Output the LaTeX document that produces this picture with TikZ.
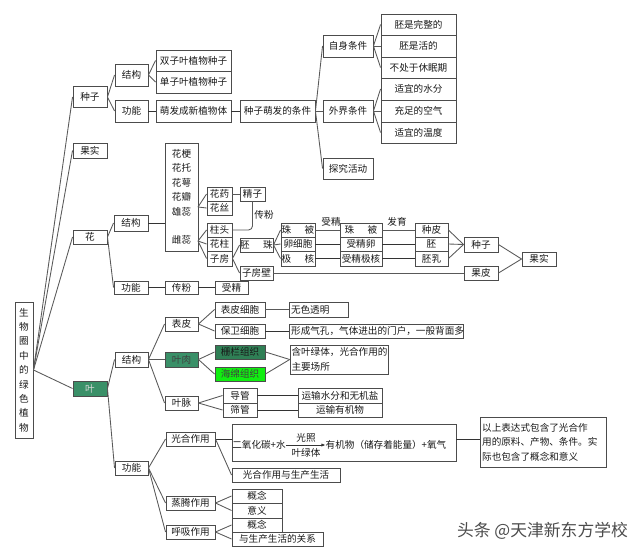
\documentclass[tikz,border=0pt]{standalone}
\usepackage{fontspec}
\setmainfont{Noto Sans CJK SC}
\usepackage{tikz}
\usetikzlibrary{arrows.meta}
\definecolor{leafgreen}{HTML}{3A9068}
\definecolor{darkgreen}{HTML}{2F7F55}
\definecolor{lightgreen}{HTML}{10EE10}
\tikzset{
    cell/.style 2 args = {rectangle, draw=black!70, line width=0.7pt, text=black!90, inner sep=0pt, align=center, minimum width=#1*0.75pt, minimum height=#2*0.75pt, font=\fontsize{7.2}{10.8}\selectfont},
    note/.style 2 args = {rectangle, draw=black!70, line width=0.7pt, text=black!90, inner sep=1pt, align=left, text width=#1, minimum height=#2*0.75pt, font=\fontsize{7.2}{10.8}\selectfont},
    mytext/.style = {inner sep=0pt, text=black!90, font=\fontsize{7.2}{10.8}\selectfont},
    edgen/.style = {draw=black!65, line width=0.65pt},
    edgeb/.style = {draw=black!80, line width=0.6pt},
    edgea/.style = {-{Latex[length=3pt,width=2.4pt]}, draw=black!80, line width=0.5pt},
}
\begin{document}
\begin{tikzpicture}[x=0.75pt,y=-0.75pt]
\useasboundingbox (0,0) rectangle (640,553);
%
\node[cell={18}{136}] at (24,370) (root) {生\\物\\圈\\中\\的\\绿\\色\\植\\物};
\node[cell={34}{21}] at (90,97) (seed) {种子};
\node[cell={34}{15}] at (90,150.5) (fruit) {果实};
\node[cell={34}{14}] at (90,237) (flower) {花};
\node[cell={34}{15},fill=leafgreen,text=white!85!black] at (90,388.5) (leaf) {叶};
%
% seed
\node[cell={33}{22}] at (131.5,75) (sstruct) {结构};
\node[cell={33}{22}] at (131.5,111) (sfunc) {功能};
\node[cell={75}{21}] at (193.5,60.5) (dicot) {双子叶植物种子};
\node[cell={75}{22}] at (193.5,82) (monocot) {单子叶植物种子};
\node[cell={75}{22}] at (193.5,111) (sprout) {萌发成新植物体};
\node[cell={75}{22}] at (277.5,111) (cond) {种子萌发的条件};
\node[cell={50}{22}] at (348,46) (self) {自身条件};
\node[cell={50}{22}] at (348,111) (outer) {外界条件};
\node[cell={50}{21}] at (348,168.5) (explore) {探究活动};
\node[cell={75}{21}] at (418.5,24.5) (selfa) {胚是完整的};
\node[cell={75}{22}] at (418.5,46) (selfb) {胚是活的};
\node[cell={75}{21}] at (418.5,67.5) (selfc) {不处于休眠期};
\node[cell={75}{22}] at (418.5,89) (outa) {适宜的水分};
\node[cell={75}{22}] at (418.5,111) (outb) {充足的空气};
\node[cell={75}{21}] at (418.5,132.5) (outc) {适宜的温度};
%
% flower
\node[cell={34}{16}] at (131,223) (fstruct) {结构};
\node[cell={34}{13}] at (131,287.5) (ffunc) {功能};
\node[cell={33}{108}] at (181.5,197) (parts) {花梗\\花托\\花萼\\花瓣\\雄蕊\\\mbox{}\\雌蕊};
\node[cell={33}{13}] at (181.5,287.5) (fpoll) {传粉};
\node[cell={33}{13}] at (231.5,287.5) (ffert) {受精};
\node[cell={25}{14}] at (219.5,194) (anther) {花药};
\node[cell={25}{14}] at (219.5,208) (filament) {花丝};
\node[cell={25}{14}] at (252.5,194) (sperm) {精子};
\node[cell={25}{14}] at (219.5,230) (stigma) {柱头};
\node[cell={25}{14}] at (219.5,244) (style) {花柱};
\node[cell={25}{15}] at (219.5,258.5) (ovary) {子房};
\node[cell={33}{14}] at (256.5,245) (ovule) {胚\hspace{1.4em}珠};
\node[cell={33}{14}] at (256.5,273) (wall) {子房壁};
\node[cell={34}{14}] at (298,230) (tega) {珠\hspace{1.4em}被};
\node[cell={34}{14}] at (298,244) (egga) {卵细胞};
\node[cell={34}{15}] at (298,258.5) (polara) {极\hspace{1.4em}核};
\node[cell={42}{14}] at (361,230) (tegb) {珠\hspace{1.4em}被};
\node[cell={42}{14}] at (361,244) (eggb) {受精卵};
\node[cell={42}{15}] at (361,258.5) (polarb) {受精极核};
\node[cell={33}{14}] at (431.5,230) (coat) {种皮};
\node[cell={33}{14}] at (431.5,244) (embryo) {胚};
\node[cell={33}{15}] at (431.5,258.5) (endo) {胚乳};
\node[cell={34}{15}] at (481,244.5) (fseed) {种子};
\node[cell={34}{14}] at (481,273) (peel) {果皮};
\node[cell={34}{14}] at (539,259) (ffruit) {果实};
\node[mytext] at (264,215) (lpoll) {传粉};
\node[mytext] at (331,222) (lfert) {受精};
\node[mytext] at (397,222) (lgrow) {发育};
%
% leaf
\node[cell={33}{15}] at (131.5,359.5) (lstruct) {结构};
\node[cell={33}{14}] at (131.5,468) (lfunc) {功能};
\node[cell={33}{14}] at (181.5,324) (epid) {表皮};
\node[cell={33}{15},fill=leafgreen,text=black!75] at (181.5,359.5) (meso) {叶肉};
\node[cell={33}{14}] at (181.5,403) (vein) {叶脉};
\node[cell={50}{15}] at (240,309.5) (ecell) {表皮细胞};
\node[cell={50}{14}] at (240,331) (gcell) {保卫细胞};
\node[cell={50}{14},fill=darkgreen] at (240,352) (pali) {栅栏组织};
\node[cell={50}{14},fill=lightgreen,text=black!75] at (240,374) (spon) {海绵组织};
\node[cell={34}{15}] at (240,395.5) (xylem) {导管};
\node[cell={34}{14}] at (240,410) (phloem) {筛管};
\node[note={42pt}{15}] at (319,309.5) (clear) {无色透明};
\node[note={128pt}{14}] at (376.5,331) (stoma) {形成气孔，气体进出的门户，一般背面多};
\node[note={72pt}{29}] at (339.5,359.5) (chloro) {含叶绿体，光合作用的\\主要场所};
\node[cell={84}{15}] at (340,395.5) (water) {运输水分和无机盐};
\node[cell={84}{14}] at (340,410) (organic) {运输有机物};
\node[cell={49}{14}] at (190.5,439) (photo) {光合作用};
\node[cell={49}{14}] at (190.5,503) (transp) {蒸腾作用};
\node[cell={49}{14}] at (190.5,532) (resp) {呼吸作用};
\node[cell={224}{37}] at (344,442.5) (eq) {};
\node[mytext] at (259,445) (eqa) {二氧化碳+水};
\node[mytext] at (306,438) (eqb) {光照};
\node[mytext] at (306,453) (eqc) {叶绿体};
\node[mytext] at (386,445) (eqd) {有机物（储存着能量）+氧气};
\node[note={92pt}{50}] at (543.5,442) (expl) {以上表达式包含了光合作\\用的原料、产物、条件。实\\际也包含了概念和意义};
\node[cell={108}{14}] at (286,475) (prod) {光合作用与生产生活};
\node[cell={50}{14}] at (257,496) (cona) {概念};
\node[cell={50}{15}] at (257,510.5) (mean) {意义};
\node[cell={50}{14}] at (257,525) (conb) {概念};
\node[cell={91}{14}] at (277.5,539) (rel) {与生产生活的关系};
%
\node[text=black!70,inner sep=0pt,font=\fontsize{12.6}{15}\selectfont] at (542.5,531) (mark) {头条 @天津新东方学校};
%
\coordinate (stamen) at (198,207);
\coordinate (pistil) at (198,241);
%
\foreach \to in {seed,fruit,flower,leaf} {\draw[edgen] (root.east) -- (\to.west);}
\foreach \to in {sstruct,sfunc} {\draw[edgen] (seed.east) -- (\to.west);}
\foreach \to in {dicot,monocot} {\draw[edgen] (sstruct.east) -- (\to.west);}
\draw[edgeb] (sfunc) -- (sprout);
\draw[edgeb] (sprout) -- (cond);
\foreach \to in {self,outer,explore} {\draw[edgen] (cond.east) -- (\to.west);}
\foreach \to in {selfa,selfb,selfc} {\draw[edgen] (self.east) -- (\to.west);}
\foreach \to in {outa,outb,outc} {\draw[edgen] (outer.east) -- (\to.west);}
%
\foreach \to in {fstruct,ffunc} {\draw[edgen] (flower.east) -- (\to.west);}
\draw[edgeb] (fstruct.east) -- (fstruct.east -| parts.west);
\draw[edgeb] (ffunc) -- (fpoll);
\draw[edgeb] (fpoll) -- (ffert);
\foreach \to in {anther,filament} {\draw[edgen] (stamen) -- (\to.west);}
\foreach \to in {stigma,style,ovary} {\draw[edgen] (pistil) -- (\to.west);}
\draw[edgen] (anther) -- (sperm);
\draw[edgen,rounded corners=3pt] (stigma.east) -| (sperm.south);
\foreach \to in {ovule,wall} {\draw[edgen] (ovary.east) -- (\to.west);}
\foreach \to in {tega,egga,polara} {\draw[edgen] (ovule.east) -- (\to.west);}
\draw[edgen] (tega) -- (tegb);
\draw[edgeb] (egga) -- (eggb);
\draw[edgeb] (polara) -- (polarb);
\draw[edgen] (tegb) -- (coat);
\draw[edgeb] (eggb) -- (embryo);
\draw[edgeb] (polarb) -- (endo);
\foreach \to in {coat,embryo,endo} {\draw[edgen] (\to.east) -- (fseed.west);}
\draw[edgen] (wall) -- (peel);
\draw[edgen] (fseed.east) -- (ffruit.west);
\draw[edgen] (peel.east) -- (ffruit.west);
%
\foreach \to in {lstruct,lfunc} {\draw[edgen] (leaf.east) -- (\to.west);}
\foreach \to in {epid,meso,vein} {\draw[edgen] (lstruct.east) -- (\to.west);}
\foreach \to in {ecell,gcell} {\draw[edgen] (epid.east) -- (\to.west);}
\foreach \to in {pali,spon} {\draw[edgen] (meso.east) -- (\to.west);}
\foreach \to in {xylem,phloem} {\draw[edgen] (vein.east) -- (\to.west);}
\draw[edgen] (ecell) -- (clear);
\draw[edgeb] (gcell) -- (stoma);
\foreach \from in {pali,spon} {\draw[edgen] (\from.east) -- (chloro.west);}
\draw[edgeb] (xylem) -- (water);
\draw[edgeb] (phloem) -- (organic);
\foreach \to in {photo,transp,resp} {\draw[edgen] (lfunc.east) -- (\to.west);}
\draw[edgeb] (photo.east) -- (photo.east -| eq.west);
\draw[edgen] (photo.east) -- (prod.west);
\draw[edgea] (eqa.east) -- (eqd.west);
\draw[edgeb] (eq.east |- photo.east) -- (expl.west |- photo.east);
\foreach \to in {cona,mean} {\draw[edgen] (transp.east) -- (\to.west);}
\foreach \to in {conb,rel} {\draw[edgen] (resp.east) -- (\to.west);}
%
\end{tikzpicture}
\end{document}
